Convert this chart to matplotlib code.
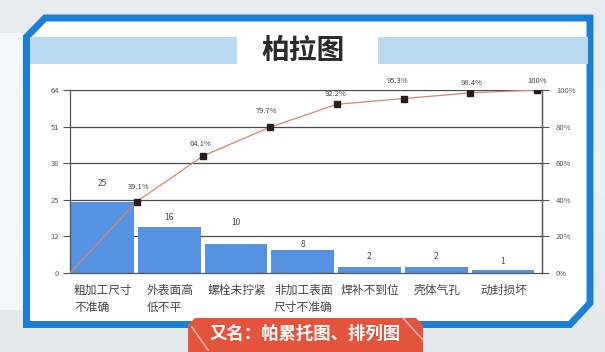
import matplotlib
matplotlib.use("Agg")
import matplotlib.pyplot as plt
from matplotlib.patches import Polygon, Rectangle
from matplotlib.lines import Line2D
import numpy as np

plt.rcParams['font.family'] = ['Noto Sans CJK SC', 'DejaVu Sans']

# ---------------- data ----------------
categories = ["粗加工尺寸\n不准确", "外表面高\n低不平", "螺栓未拧紧", "非加工表面\n尺寸不准确",
              "焊补不到位", "壳体气孔", "动封损坏"]
counts = [25, 16, 10, 8, 2, 2, 1]
cum_pct_labels = ["39.1%", "64.1%", "79.7%", "92.2%", "95.3%", "98.4%", "100%"]
left_tick_labels = ["0", "12", "25", "38", "51", "64"]
right_tick_labels = ["0%", "20%", "40%", "60%", "80%", "100%"]
title = "柏拉图"
banner_text = "又名：帕累托图、排列图"

# label offsets (pixels) - styling
count_label_offsets = [18, 10, 22, 6, 11, 11, 9]
pct_label_offsets = [(2, 15), (-3, 12), (-4, 16), (-1, 10), (-6, 18), (1, 10), (0, 9)]

W, H = 605, 352
fig = plt.figure(figsize=(W / 100, H / 100), dpi=100)

# ---------------- decoration layer ----------------
bg = fig.add_axes([0, 0, 1, 1])
bg.set_xlim(0, W)
bg.set_ylim(H, 0)
bg.axis('off')
grad = np.linspace(0, 1, 100).reshape(-1, 1)
bg.imshow(grad, extent=[0, W, H, 0], cmap=matplotlib.colors.LinearSegmentedColormap.from_list(
    'g', ['#e7ebee', '#eef1f3', '#e3e8eb']), aspect='auto', zorder=0)
bg.add_patch(Rectangle((0, 33), 22, 277, color='#f4f6f7', zorder=1, lw=0))

frame = [(26.5, 37), (45, 18), (590, 18), (590, 303), (570, 324.5), (26.5, 324.5)]
bg.add_patch(Polygon(frame, closed=True, facecolor='white', edgecolor='#1a7fd6',
                     lw=5, joinstyle='miter', zorder=2))
bg.add_patch(Rectangle((29.5, 37), 207, 27, color='#b9d9f1', lw=0, zorder=3))
bg.add_patch(Rectangle((378, 37), 209.5, 27, color='#b9d9f1', lw=0, zorder=3))
bg.text(303, 51, title, ha='center', va='center', fontsize=20, fontweight='bold',
        color='#2b2b2b', zorder=4)

banner = [(188, 325), (195, 318), (416, 318), (423, 325), (423, 352), (188, 352)]
bg.add_patch(Polygon(banner, closed=True, facecolor='#e4533c', edgecolor='none', zorder=5))
bg.add_line(Line2D([192, 208], [327, 350], color='#f3b3a6', lw=1.2, zorder=6))
bg.add_line(Line2D([403, 423], [318, 340], color='#f3b3a6', lw=1.2, zorder=6))
bg.text(305, 334, banner_text, ha='center', va='center', fontsize=12.5, fontweight='bold',
        color='white', zorder=7)

# ---------------- chart ----------------
L, R, T, B = 70, 542, 90, 273
ax = fig.add_axes([L / W, 1 - B / H, (R - L) / W, (B - T) / H])
ax.set_facecolor('none')
slot = 66.7
n = len(counts)
xs = np.arange(n)
total = sum(counts)
ax.set_xlim(0, (R - L) / slot)
ax.set_ylim(0, total)

ticks_left = [total * i / 5 for i in range(6)]
ax.set_yticks(ticks_left)
ax.set_yticklabels(left_tick_labels)
ax.set_xticks([])
for t in ticks_left[1:]:
    ax.axhline(t, color='#4a4a4a', lw=0.9, zorder=1)

ax.bar(xs + 0.49, counts, width=0.94, color='#5592e2', zorder=2)

for spine in ['top']:
    ax.spines[spine].set_visible(False)
for spine in ['left', 'right', 'bottom']:
    ax.spines[spine].set_color('#555555')
    ax.spines[spine].set_linewidth(0.9)
ax.tick_params(axis='y', length=5, width=0.8, color='#555555', labelsize=5.5,
               labelcolor='#555555', pad=3)

for i, c in enumerate(counts):
    ax.annotate(str(c), xy=(i + 0.49, c), xytext=(0, count_label_offsets[i]),
                textcoords='offset pixels', ha='center', va='center', fontsize=6,
                color='#444444', zorder=5)

for i, lab in enumerate(categories):
    ax.annotate(lab, xy=(i + 0.5, 0), xycoords=('data', 'axes fraction'),
                xytext=(0, -11), textcoords='offset pixels', ha='center', va='top',
                multialignment='left', fontsize=8.5, color='#444444', linespacing=1.35)

ax2 = ax.twinx()
ax2.set_ylim(0, 100)
ax2.set_yticks(np.arange(0, 101, 20))
ax2.set_yticklabels(right_tick_labels)
ax2.tick_params(axis='y', length=5, width=0.8, color='#555555', labelsize=5.5,
                labelcolor='#555555', pad=5)
for spine in ['top', 'left', 'bottom']:
    ax2.spines[spine].set_visible(False)
ax2.spines['right'].set_color('#555555')
ax2.spines['right'].set_linewidth(0.9)

cum = np.cumsum(counts) / total * 100
line_x = np.concatenate([[0], xs + 1])
line_y = np.concatenate([[0], cum])
ax2.plot(line_x, line_y, color='#d9836f', lw=0.9, zorder=3)
ax2.plot(xs + 1, cum, linestyle='none', marker='s', markersize=5,
         markerfacecolor='#2a1c1c', markeredgecolor='#2a1c1c', zorder=4)
for i, lab in enumerate(cum_pct_labels):
    dx, dy = pct_label_offsets[i]
    ax2.annotate(lab, xy=(i + 1, cum[i]), xytext=(dx, dy), textcoords='offset pixels',
                 ha='center', va='center', fontsize=5.5, color='#444444', zorder=5,
                 annotation_clip=False)

fig.savefig('out.png', dpi=100)
